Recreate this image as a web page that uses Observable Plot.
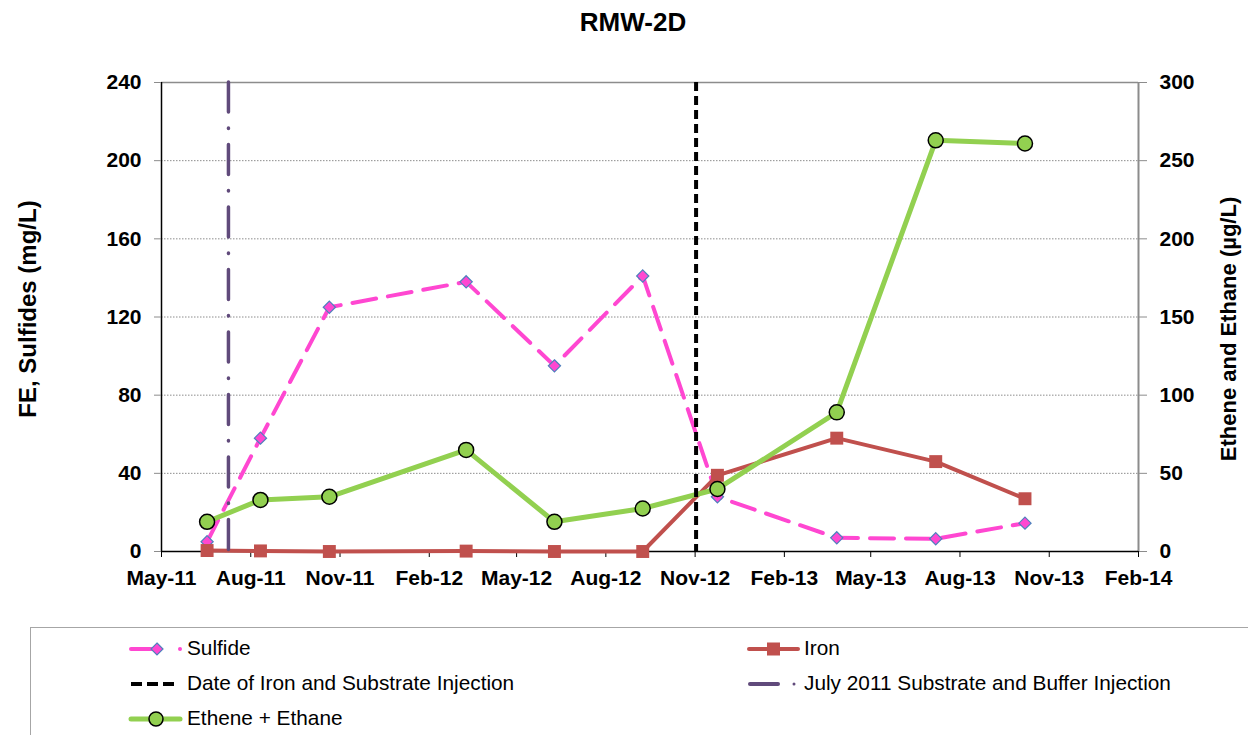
<!DOCTYPE html>
<html>
<head>
<meta charset="utf-8">
<script src="https://cdn.jsdelivr.net/npm/d3@7"></script>
<script src="https://cdn.jsdelivr.net/npm/@observablehq/plot@0.6"></script>
<style>
  body { margin: 0; background: #fff; font-family: Arial, "Liberation Sans", sans-serif; width: 1248px; height: 735px; overflow: hidden; position: relative; }
  #title { height: 40px; line-height: 44px; font-size: 26px; font-weight: bold; text-align: center; padding-left: 18px; }
  #chart svg { display: block; }
  #legend { position: absolute; left: 30px; top: 627px; width: 1240px; height: 140px; border: 1px solid #a6a6a6; box-sizing: border-box; }
  .item { position: absolute; height: 20px; }
  .item svg { position: absolute; left: 0; top: 0; overflow: visible; }
  .item span { position: absolute; top: -1px; font-size: 20.8px; line-height: 22px; white-space: nowrap; color: #000; }
</style>
</head>
<body>
<div id="title">RMW-2D</div>
<div id="chart"></div>
<div id="legend"></div>
<script>
// ---- data ----
const sampleDates = ["2011-06-17", "2011-08-11", "2011-10-21", "2012-03-10", "2012-06-09",
                     "2012-09-08", "2012-11-24", "2013-03-27", "2013-07-07", "2013-10-07"];
const sulfide = [5, 58, 125, 138, 95, 141, 28, 7, 6.5, 14.5];          // mg/L (left axis)
const iron = [0.5, 0.3, 0, 0.2, 0, 0, 39, 58, 46, 27];                 // mg/L (left axis)
const etheneEthane = [19, 33, 35, 65, 19, 27.5, 40, 89, 263, 261];     // µg/L (right axis)
const julyInjectionDate = "2011-07-09";
const ironInjectionDate = "2012-11-02";
const xTickDates = ["2011-05-01", "2011-08-01", "2011-11-01", "2012-02-01", "2012-05-01", "2012-08-01",
                    "2012-11-01", "2013-02-01", "2013-05-01", "2013-08-01", "2013-11-01", "2014-02-01"];
const xTickLabels = ["May-11", "Aug-11", "Nov-11", "Feb-12", "May-12", "Aug-12",
                     "Nov-12", "Feb-13", "May-13", "Aug-13", "Nov-13", "Feb-14"];
const leftTicks = [0, 40, 80, 120, 160, 200, 240];
const rightTicks = [0, 50, 100, 150, 200, 250, 300];
const leftMax = 240, rightMax = 300;
const titleLeft = "FE, Sulfides (mg/L)";
const titleRight = "Ethene and Ethane (µg/L)";

// ---- colours ----
const pink = "#FF47D1", red = "#C0504D", green = "#92D050", purple = "#604A7B", blueEdge = "#4F81BD";

const parse = d3.utcParse("%Y-%m-%d");
const rows = sampleDates.map((d, i) => ({date: parse(d), sulfide: sulfide[i], iron: iron[i], ethene: etheneEthane[i]}));
const xTicks = xTickDates.map(parse);
const xLabel = new Map(xTicks.map((d, i) => [+d, xTickLabels[i]]));
const xStart = xTicks[0], xEnd = xTicks[xTicks.length - 1];

const font = "Arial, 'Liberation Sans', sans-serif";

const chart = Plot.plot({
  width: 1248, height: 571,
  marginTop: 42, marginBottom: 60, marginLeft: 161, marginRight: 110,
  x: {type: "utc", domain: [xStart, xEnd]},
  y: {domain: [0, leftMax]},
  style: {fontFamily: font, background: "white", overflow: "visible"},
  marks: [
    Plot.ruleY(leftTicks.filter(t => t > 0 && t < leftMax), {stroke: "#8c8c8c", strokeWidth: 1, strokeDasharray: "1.5,1.5"}),
    Plot.ruleY([leftMax], {stroke: "#8c8c8c", strokeWidth: 1.5}),
    Plot.ruleX([xEnd], {stroke: "#8c8c8c", strokeWidth: 2}),
    Plot.ruleX([xStart], {stroke: "black", strokeWidth: 1.5}),
    Plot.ruleY([0], {stroke: "black", strokeWidth: 1.5}),
    Plot.axisY(leftTicks, {anchor: "left", tickSize: 7, tickPadding: 13, fontSize: 21, fontWeight: "bold", stroke: "#8c8c8c", fill: "black", label: null}),
    Plot.axisY(leftTicks, {anchor: "right", tickSize: 8, tickPadding: 13, fontSize: 21, fontWeight: "bold", stroke: "#8c8c8c", fill: "black", label: null,
      tickFormat: d => rightTicks[leftTicks.indexOf(d)]}),
    Plot.axisX(xTicks, {anchor: "bottom", tickSize: 6, tickPadding: 13, fontSize: 21, fontWeight: "bold", stroke: "black", fill: "black", label: null,
      tickFormat: d => xLabel.get(+d)}),
    Plot.text([titleLeft], {text: d => d, frameAnchor: "left", textAnchor: "middle", rotate: -90, dx: -133, dy: -8, fontSize: 24, fontWeight: "bold", fill: "black"}),
    Plot.text([titleRight], {text: d => d, frameAnchor: "right", textAnchor: "middle", rotate: -90, dx: 90, dy: 12, fontSize: 22, fontWeight: "bold", fill: "black"}),
    // series
    Plot.line(rows, {x: "date", y: "sulfide", stroke: pink, strokeWidth: 4, strokeDasharray: "24,12"}),
    Plot.dot(rows, {x: "date", y: "sulfide", symbol: "diamond2", r: 5.5, fill: pink, stroke: blueEdge, strokeWidth: 1.2}),
    Plot.line(rows, {x: "date", y: "iron", stroke: red, strokeWidth: 4}),
    Plot.dot(rows, {x: "date", y: "iron", symbol: "square", r: 7.3, fill: red, stroke: "none"}),
    Plot.line(rows, {x: "date", y: d => d.ethene * leftMax / rightMax, stroke: green, strokeWidth: 5}),
    Plot.dot(rows, {x: "date", y: d => d.ethene * leftMax / rightMax, r: 7.5, fill: green, stroke: "black", strokeWidth: 1.5}),
    // injection dates
    Plot.ruleX([parse(ironInjectionDate)], {stroke: "black", strokeWidth: 4, strokeDasharray: "9,5"}),
    Plot.ruleX([parse(julyInjectionDate)], {stroke: purple, strokeWidth: 3.5, strokeDasharray: "30,16,0.5,16", strokeLinecap: "round"})
  ]
});
document.getElementById("chart").appendChild(chart);

// ---- legend ----
const legendItems = [
  {label: "Sulfide", kind: "sulfide", x: 130, tx: 187, y: 648},
  {label: "Iron", kind: "iron", x: 748, tx: 804, y: 648},
  {label: "Date of Iron and Substrate Injection", kind: "dash", x: 130, tx: 187, y: 683},
  {label: "July 2011 Substrate and Buffer Injection", kind: "dashdot", x: 748, tx: 804, y: 683},
  {label: "Ethene + Ethane", kind: "ethene", x: 130, tx: 187, y: 718}
];
const ns = "http://www.w3.org/2000/svg";
const legend = document.getElementById("legend");
function el(tag, attrs) { const e = document.createElementNS(ns, tag); for (const k in attrs) e.setAttribute(k, attrs[k]); return e; }
for (const it of legendItems) {
  const div = document.createElement("div");
  div.className = "item";
  div.style.left = (it.x - 31) + "px";
  div.style.top = (it.y - 627 - 11) + "px";
  const svg = el("svg", {width: 60, height: 22});
  const cy = 11;
  if (it.kind === "sulfide") {
    svg.appendChild(el("line", {x1: 1, x2: 27, y1: cy, y2: cy, stroke: pink, "stroke-width": 4, "stroke-linecap": "round"}));
    svg.appendChild(el("path", {d: `M27,${cy - 6}L33,${cy}L27,${cy + 6}L21,${cy}Z`, fill: pink, stroke: blueEdge, "stroke-width": 1.2}));
    svg.appendChild(el("circle", {cx: 50, cy, r: 2, fill: pink}));
  } else if (it.kind === "iron") {
    svg.appendChild(el("line", {x1: 1, x2: 50, y1: cy, y2: cy, stroke: red, "stroke-width": 4, "stroke-linecap": "round"}));
    svg.appendChild(el("rect", {x: 19, y: cy - 6.5, width: 13, height: 13, fill: red}));
  } else if (it.kind === "dash") {
    svg.appendChild(el("line", {x1: 1, x2: 46, y1: cy, y2: cy, stroke: "black", "stroke-width": 4, "stroke-dasharray": "11,5"}));
  } else if (it.kind === "dashdot") {
    svg.appendChild(el("line", {x1: 2, x2: 30, y1: cy, y2: cy, stroke: purple, "stroke-width": 4, "stroke-linecap": "round"}));
    svg.appendChild(el("circle", {cx: 46, cy, r: 1.5, fill: purple}));
  } else if (it.kind === "ethene") {
    svg.appendChild(el("line", {x1: 1, x2: 50, y1: cy, y2: cy, stroke: green, "stroke-width": 5, "stroke-linecap": "round"}));
    svg.appendChild(el("circle", {cx: 26, cy, r: 7, fill: green, stroke: "black", "stroke-width": 1.5}));
  }
  div.appendChild(svg);
  const span = document.createElement("span");
  span.textContent = it.label;
  span.style.left = (it.tx - it.x) + "px";
  div.appendChild(span);
  legend.appendChild(div);
}
</script>
</body>
</html>
